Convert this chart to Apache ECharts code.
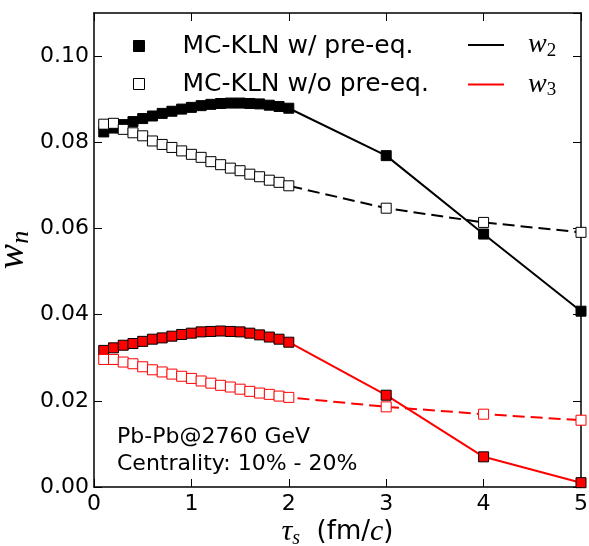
<!DOCTYPE html>
<html>
<head>
<meta charset="utf-8">
<script src="https://cdn.jsdelivr.net/npm/echarts@6/dist/echarts.min.js"></script>
<style>
  html, body { margin: 0; padding: 0; background: #fff; }
  #chart { width: 589px; height: 546px; }
</style>
</head>
<body>
<div id="chart"></div>
<script>
// Proper time tau_s (fm/c) sampled finely up to 2 fm/c, then coarse points
const tauValues = [0.1, 0.2, 0.3, 0.4, 0.5, 0.6, 0.7, 0.8, 0.9, 1.0,
                   1.1, 1.2, 1.3, 1.4, 1.5, 1.6, 1.7, 1.8, 1.9, 2.0,
                   3, 4, 5];

// w_2, MC-KLN with pre-equilibrium flow
const w2PreEq = [0.0824, 0.0833, 0.0841, 0.0848, 0.0855, 0.0861, 0.0867, 0.0872, 0.0877, 0.0881,
                 0.0885, 0.0888, 0.0890, 0.0891, 0.0891, 0.0890, 0.0889, 0.0886, 0.0883, 0.0879,
                 0.0769, 0.0587, 0.0408];
// w_2, MC-KLN without pre-equilibrium flow
const w2NoPreEq = [0.0842, 0.0844, 0.0830, 0.0822, 0.0815, 0.0803, 0.0795, 0.0788, 0.0780, 0.0772,
                   0.0765, 0.0755, 0.0748, 0.0740, 0.0734, 0.0726, 0.0720, 0.0712, 0.0707, 0.0699,
                   0.0647, 0.0614, 0.0591];
// w_3, MC-KLN with pre-equilibrium flow
const w3PreEq = [0.0317, 0.0323, 0.0329, 0.0333, 0.0338, 0.0343, 0.0346, 0.0350, 0.0354, 0.0357,
                 0.0360, 0.0361, 0.0362, 0.0361, 0.0360, 0.0357, 0.0353, 0.0348, 0.0343, 0.0336,
                 0.0213, 0.0070, 0.0010];
// w_3, MC-KLN without pre-equilibrium flow
const w3NoPreEq = [0.0296, 0.0296, 0.0290, 0.0286, 0.0279, 0.0272, 0.0267, 0.0262, 0.0257, 0.0252,
                   0.0246, 0.0241, 0.0236, 0.0232, 0.0227, 0.0222, 0.0218, 0.0215, 0.0211, 0.0208,
                   0.0186, 0.0169, 0.0155];

const xTicks = { min: 0, max: 5, interval: 1 };
const yTicks = { min: 0, max: 0.11, interval: 0.02 };

const markerLegend = ['MC-KLN w/ pre-eq.', 'MC-KLN w/o pre-eq.'];
const lineLegend = ['w2', 'w3'];

const SANS = 'DejaVu Sans';
const MATH = 'Liberation Serif';

function pairs(ys) { return tauValues.map((t, i) => [t, ys[i]]); }

const chart = echarts.init(document.getElementById('chart'), null, { renderer: 'canvas' });

const frameLine = { show: true, onZero: false, lineStyle: { color: '#000', width: 1.5 } };
const innerTick = { show: true, inside: true, length: 8, lineStyle: { color: '#000', width: 1 } };

function xAxis(position, withLabels) {
  return {
    type: 'value', position, min: xTicks.min, max: xTicks.max, interval: xTicks.interval,
    axisLine: frameLine, axisTick: innerTick, splitLine: { show: false },
    axisLabel: { show: withLabels, margin: 6, color: '#000', fontFamily: SANS, fontSize: 22 },
    name: withLabels ? '{i|τ}{s|s}{t|  (fm/}{i|c}{t|)}' : '',
    nameLocation: 'middle', nameGap: 28, nameMoveOverlap: false,
    nameTextStyle: {
      rich: {
        i: { fontFamily: MATH, fontStyle: 'italic', fontSize: 30, color: '#000' },
        s: { fontFamily: MATH, fontStyle: 'italic', fontSize: 20, color: '#000', padding: [14, 0, 0, 0] },
        t: { fontFamily: SANS, fontSize: 26, color: '#000' }
      }
    }
  };
}

function yAxis(position, withLabels) {
  return {
    type: 'value', position, min: yTicks.min, max: yTicks.max, interval: yTicks.interval,
    axisLine: frameLine, axisTick: innerTick, splitLine: { show: false },
    axisLabel: {
      show: withLabels, margin: 5, color: '#000', fontFamily: SANS, fontSize: 22,
      showMaxLabel: false, formatter: v => v.toFixed(2)
    },
    name: withLabels ? '{i|w}{s|n}' : '',
    nameLocation: 'middle', nameRotate: 90, nameGap: 60, nameMoveOverlap: false,
    nameTextStyle: {
      rich: {
        i: { fontFamily: MATH, fontStyle: 'italic', fontSize: 38, color: '#000' },
        s: { fontFamily: MATH, fontStyle: 'italic', fontSize: 26, color: '#000', padding: [16, 0, 0, 0] }
      }
    }
  };
}

function curve(name, ys, color, dashed, fill, edge) {
  return {
    name, type: 'line', data: pairs(ys), xAxisIndex: 0, yAxisIndex: 0,
    symbol: 'rect', symbolSize: 10, showSymbol: true, animation: false,
    lineStyle: { color, width: 2, type: dashed ? [12, 6] : 'solid' },
    itemStyle: { color: fill, borderColor: edge, borderWidth: 1 },
    emphasis: { disabled: true }
  };
}

const option = {
  backgroundColor: '#fff',
  animation: false,
  grid: { left: 94, right: 8, top: 13, bottom: 59, containLabel: false, outerBoundsMode: 'none' },
  xAxis: [xAxis('bottom', true), xAxis('top', false)],
  yAxis: [yAxis('left', true), yAxis('right', false)],
  legend: [
    {
      orient: 'vertical', left: 128, top: 27, itemGap: 10,
      itemWidth: 11, itemHeight: 11,
      selectedMode: false,
      textStyle: { fontFamily: SANS, fontSize: 25, color: '#000', lineHeight: 28, padding: [0, 0, 0, 33] },
      data: [
        { name: markerLegend[0], icon: 'rect', itemStyle: { color: '#000', borderColor: '#000', borderWidth: 1, opacity: 1 } },
        { name: markerLegend[1], icon: 'rect', itemStyle: { color: '#fff', borderColor: '#000', borderWidth: 1, opacity: 1 } }
      ]
    },
    {
      orient: 'vertical', left: 463, top: 26, itemGap: 10,
      itemWidth: 36, itemHeight: 2,
      selectedMode: false,
      formatter: name => '{i|w}{s|' + name.slice(1) + '}',
      textStyle: {
        color: '#000',
        padding: [0, 0, 0, 19],
        rich: {
          i: { fontFamily: MATH, fontStyle: 'italic', fontSize: 28, color: '#000' },
          s: { fontFamily: MATH, fontSize: 19, color: '#000', padding: [12, 0, 0, 0] }
        }
      },
      data: [
        { name: lineLegend[0], icon: 'rect', itemStyle: { color: '#000', borderWidth: 0 } },
        { name: lineLegend[1], icon: 'rect', itemStyle: { color: '#ff0000', borderWidth: 0 } }
      ]
    }
  ],
  series: [
    curve('w2 pre', w2PreEq, '#000', false, '#000', '#000'),
    curve('w2 nopre', w2NoPreEq, '#000', true, '#fff', '#000'),
    curve('w3 pre', w3PreEq, '#ff0000', false, '#ff0000', '#000'),
    curve('w3 nopre', w3NoPreEq, '#ff0000', true, '#fff', '#ff0000'),
    // legend-only entries
    { name: markerLegend[0], type: 'scatter', data: [], itemStyle: { color: '#000' } },
    { name: markerLegend[1], type: 'scatter', data: [], itemStyle: { color: '#fff', borderColor: '#000' } },
    { name: lineLegend[0], type: 'line', data: [], symbol: 'none', lineStyle: { color: '#000', width: 2 }, itemStyle: { color: '#000' } },
    { name: lineLegend[1], type: 'line', data: [], symbol: 'none', lineStyle: { color: '#ff0000', width: 2 }, itemStyle: { color: '#ff0000' } }
  ],
  graphic: [
    {
      type: 'text', left: 117, top: 426,
      style: { text: 'Pb-Pb@2760 GeV', font: '22px "DejaVu Sans"', fill: '#000' }
    },
    {
      type: 'text', left: 117, top: 453,
      style: { text: 'Centrality: 10% - 20%', font: '22px "DejaVu Sans"', fill: '#000' }
    }
  ]
};

chart.setOption(option);
</script>
</body>
</html>
